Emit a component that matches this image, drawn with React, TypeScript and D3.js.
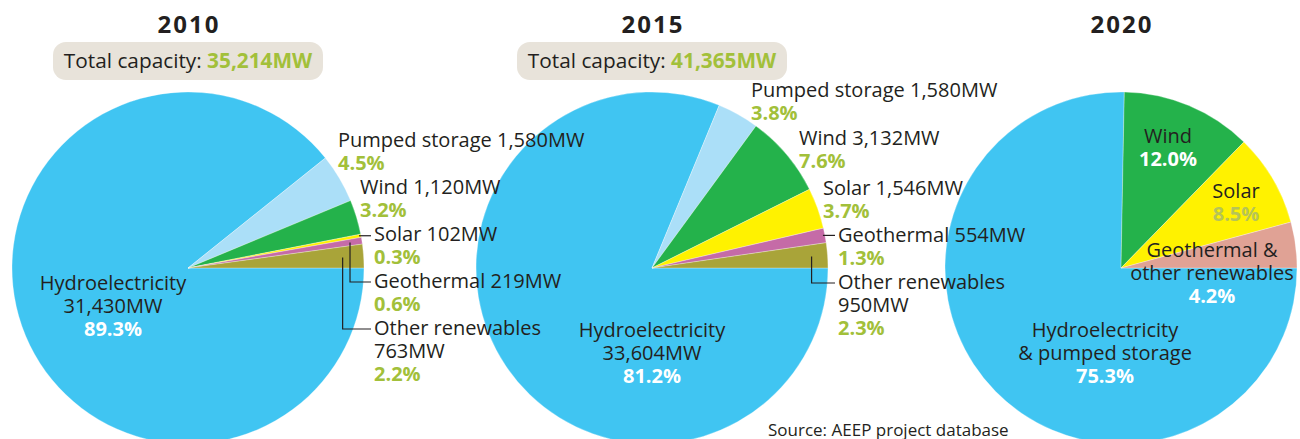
import React from "react";
import * as d3 from "d3";

// ---- data ----
const years = ["2010", "2015", "2020"];
const totalsMW = [35214, 41365];

const categories = ["Hydroelectricity", "Pumped storage", "Wind", "Solar", "Geothermal", "Other renewables"];
const mw2010 = [31430, 1580, 1120, 102, 219, 763];
const pct2010 = [89.3, 4.5, 3.2, 0.3, 0.6, 2.2];
const mw2015 = [33604, 1580, 3132, 1546, 554, 950];
const pct2015 = [81.2, 3.8, 7.6, 3.7, 1.3, 2.3];

const categories2020 = ["Hydroelectricity & pumped storage", "Wind", "Solar", "Geothermal & other renewables"];
const pct2020 = [75.3, 12.0, 8.5, 4.2];

const sourceNote = "Source: AEEP project database";

// ---- styles ----
const W = 1300;
const H = 439;
const FONT = "'Open Sans', sans-serif";
const DARK = "#231f20";
const GREEN = "#a2c03a";
const LABEL_SIZE = 20;
const LH = 23;

const colors: Record<string, string> = {
    "Hydroelectricity": "#40c5f2",
    "Pumped storage": "#abdff8",
    "Wind": "#24b24b",
    "Solar": "#fff200",
    "Geothermal": "#c56ba7",
    "Other renewables": "#a9a439",
    "Hydroelectricity & pumped storage": "#40c5f2",
    "Geothermal & other renewables": "#e0a295",
};

interface Slice {
    name: string;
    value: number;
    pct: number;
}

// label layout, offsets from the pie centre
interface OuterLabel {
    dx: number;
    dy: number;
    leader: "none" | "short" | "elbow";
    anchorR?: number;
}
const outer2010: (OuterLabel | null)[] = [
    null,
    { dx: 150, dy: -121, leader: "none" },
    { dx: 172, dy: -74, leader: "none" },
    { dx: 186, dy: -27, leader: "short" },
    { dx: 186, dy: 20, leader: "elbow", anchorR: 164 },
    { dx: 186, dy: 67, leader: "elbow", anchorR: 155 },
];
const outer2015: (OuterLabel | null)[] = [
    null,
    { dx: 99, dy: -171, leader: "none" },
    { dx: 147, dy: -123, leader: "none" },
    { dx: 171, dy: -73, leader: "none" },
    { dx: 186, dy: -26, leader: "short" },
    { dx: 186, dy: 21, leader: "elbow", anchorR: 160 },
];

const fmt = d3.format(",");
const R = 176;
const CY = 268;
const centers = [188, 652, 1121];

const pie = d3.pie<Slice>().sort(null).value(d => d.value)
    .startAngle(Math.PI / 2).endAngle(Math.PI / 2 + 2 * Math.PI);
const arc = d3.arc<d3.PieArcDatum<Slice>>().innerRadius(0).outerRadius(R);

function Slices(props: { cx: number; arcs: d3.PieArcDatum<Slice>[] }) {
    return <g transform={`translate(${props.cx},${CY})`}>
        {props.arcs.map((a, i) => (
            <path key={i} d={arc(a)!} fill={colors[a.data.name]}
                stroke="#ffffff" strokeWidth={0.5} strokeOpacity={0.6} />
        ))}
    </g>;
}

function Header(props: { cx: number; year: string; total?: number }) {
    const { cx, year, total } = props;
    return <g>
        <text x={cx + 1} y={33} textAnchor="middle" fontFamily={FONT} fontWeight={700}
            fontSize={24} letterSpacing={2} fill={DARK}>{year}</text>
        {total !== undefined && <g>
            <rect x={cx - 135} y={42} width={270} height={38} rx={13} fill="#e8e3da" />
            <text x={cx} y={68} textAnchor="middle" fontFamily={FONT} fontSize={20.8} fill={DARK}>
                Total capacity: <tspan fill={GREEN} fontWeight={700}>{fmt(total)}MW</tspan>
            </text>
        </g>}
    </g>;
}

function OuterLabels(props: { cx: number; arcs: d3.PieArcDatum<Slice>[]; layout: (OuterLabel | null)[] }) {
    const { cx, arcs, layout } = props;
    const pt = (a: number, rr: number): [number, number] =>
        [cx + rr * Math.sin(a), CY - rr * Math.cos(a)];
    return <g>
        {arcs.map((a, i) => {
            const lab = layout[i];
            if (!lab) return null;
            const lx = cx + lab.dx;
            const ly = CY + lab.dy;
            const mid = (a.startAngle + a.endAngle) / 2;
            let leader: React.ReactNode = null;
            if (lab.leader === "short") {
                const [ex, ey] = pt(mid, R);
                leader = <line x1={ex - 2} y1={ey} x2={lx - 3} y2={ey} stroke={DARK} strokeWidth={1.2} />;
            } else if (lab.leader === "elbow") {
                const [ax, ay] = pt(mid, lab.anchorR!);
                const ty = ly - 6;
                leader = <polyline points={`${ax},${ay} ${ax},${ty} ${lx - 3},${ty}`}
                    fill="none" stroke={DARK} strokeWidth={1.2} />;
            }
            const words = a.data.name === "Other renewables"
                ? [a.data.name, `${fmt(a.data.value)}MW`]
                : [`${a.data.name} ${fmt(a.data.value)}MW`];
            return <g key={i}>
                {leader}
                <text fontFamily={FONT} fontSize={LABEL_SIZE} fill={DARK}>
                    {words.map((w, j) => <tspan key={j} x={lx} y={ly + j * LH}>{w}</tspan>)}
                    <tspan x={lx} y={ly + words.length * LH} fill={GREEN} fontWeight={700}>
                        {a.data.pct.toFixed(1)}%
                    </tspan>
                </text>
            </g>;
        })}
    </g>;
}

function Inner(props: { x: number; y: number; lines: string[]; pct: string; pctColor: string }) {
    const { x, y, lines, pct, pctColor } = props;
    return <text textAnchor="middle" fontFamily={FONT} fontSize={LABEL_SIZE} fill={DARK}>
        {lines.map((l, j) => <tspan key={j} x={x} y={y + j * LH}>{l}</tspan>)}
        <tspan x={x} y={y + lines.length * LH} fill={pctColor} fontWeight={700}>{pct}</tspan>
    </text>;
}

export default function App() {
    const s2010: Slice[] = categories.map((c, i) => ({ name: c, value: mw2010[i], pct: pct2010[i] }));
    const s2015: Slice[] = categories.map((c, i) => ({ name: c, value: mw2015[i], pct: pct2015[i] }));
    const s2020: Slice[] = categories2020.map((c, i) => ({ name: c, value: pct2020[i], pct: pct2020[i] }));
    const a2010 = pie(s2010);
    const a2015 = pie(s2015);
    const a2020 = pie(s2020);

    return <svg width={W} height={H} style={{ position: "absolute", left: 0, top: 0 }}>
        <rect width={W} height={H} fill="#ffffff" />
        <Slices cx={centers[0]} arcs={a2010} />
        <Slices cx={centers[1]} arcs={a2015} />
        <Slices cx={centers[2]} arcs={a2020} />

        <Header cx={centers[0]} year={years[0]} total={totalsMW[0]} />
        <Header cx={centers[1]} year={years[1]} total={totalsMW[1]} />
        <Header cx={centers[2]} year={years[2]} />

        <OuterLabels cx={centers[0]} arcs={a2010} layout={outer2010} />
        <OuterLabels cx={centers[1]} arcs={a2015} layout={outer2015} />

        <Inner x={centers[0] - 75} y={CY + 22} lines={["Hydroelectricity", `${fmt(mw2010[0])}MW`]}
            pct={`${pct2010[0].toFixed(1)}%`} pctColor="#ffffff" />
        <Inner x={centers[1]} y={CY + 69} lines={["Hydroelectricity", `${fmt(mw2015[0])}MW`]}
            pct={`${pct2015[0].toFixed(1)}%`} pctColor="#ffffff" />
        <Inner x={centers[2] + 47} y={CY - 125} lines={["Wind"]}
            pct={`${pct2020[1].toFixed(1)}%`} pctColor="#ffffff" />
        <Inner x={centers[2] + 115} y={CY - 70} lines={["Solar"]}
            pct={`${pct2020[2].toFixed(1)}%`} pctColor="#b6c457" />
        <Inner x={centers[2] + 91} y={CY - 11} lines={["Geothermal &", "other renewables"]}
            pct={`${pct2020[3].toFixed(1)}%`} pctColor="#ffffff" />
        <Inner x={centers[2] - 16} y={CY + 69} lines={["Hydroelectricity", "& pumped storage"]}
            pct={`${pct2020[0].toFixed(1)}%`} pctColor="#ffffff" />

        <text x={768} y={436} fontFamily={FONT} fontSize={17} fill={DARK}>{sourceNote}</text>
    </svg>;
}
